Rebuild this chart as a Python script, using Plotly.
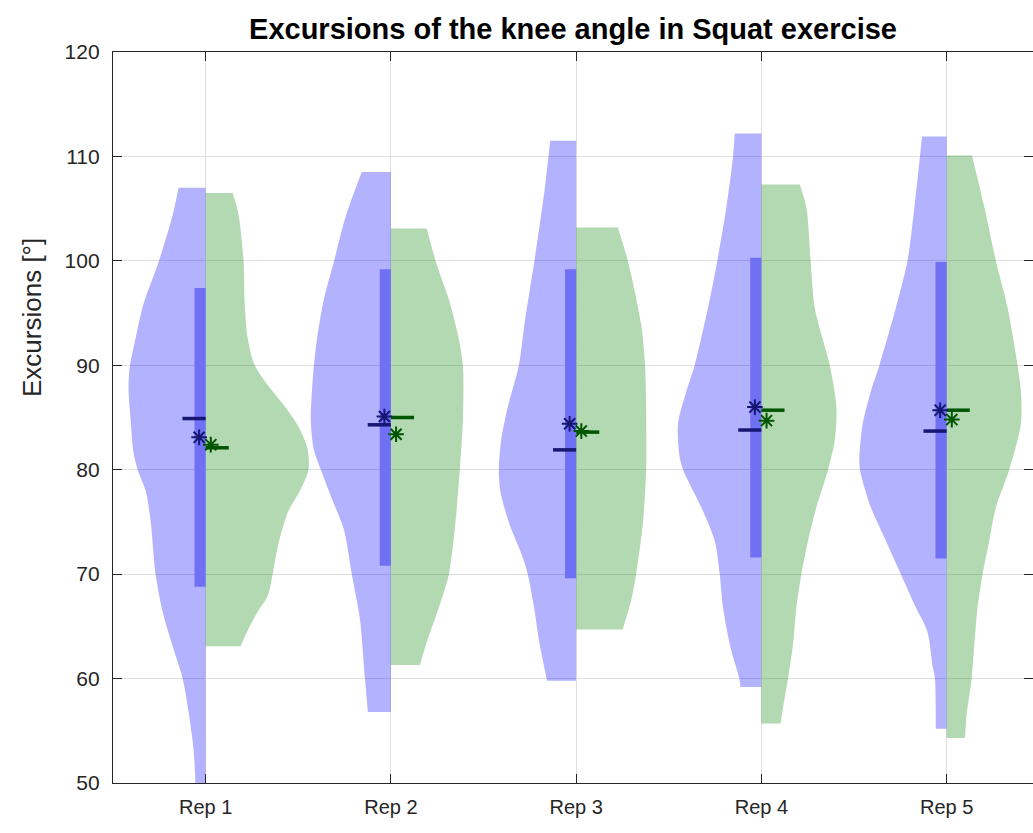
import plotly.graph_objects as go

categories = ["Rep 1", "Rep 2", "Rep 3", "Rep 4", "Rep 5"]
positions = [1, 2, 3, 4, 5]

# Left (blue) half-violin outlines: levels in degrees, half-widths in x-axis units
blue_levels = [
    [107.0, 104.4, 99.9, 95.9, 92.6, 89.8, 87.8, 84.8, 81.6, 80.0, 78.0, 75.1, 70.0, 66.4, 63.1, 60.0, 56.8, 53.2, 49.5],
    [108.5, 104.3, 99.9, 96.3, 92.5, 89.9, 84.8, 81.9, 80.0, 77.2, 74.3, 70.0, 65.7, 60.0, 56.8],
    [111.5, 106.7, 100.0, 93.9, 90.0, 86.0, 82.8, 80.0, 78.0, 74.8, 71.6, 70.0, 66.8, 63.6, 59.8],
    [112.2, 110.0, 105.1, 100.0, 95.5, 90.0, 87.5, 84.4, 81.2, 80.0, 76.4, 73.2, 70.0, 66.8, 63.0, 60.0, 59.2],
    [111.9, 110.0, 105.1, 100.0, 95.5, 90.0, 87.5, 84.4, 81.2, 80.0, 76.4, 73.2, 70.0, 66.8, 64.5, 61.2, 60.0, 55.2],
]
blue_widths = [
    [0.146, 0.178, 0.254, 0.335, 0.378, 0.410, 0.416, 0.405, 0.389, 0.367, 0.324, 0.297, 0.270, 0.232, 0.178, 0.124, 0.092, 0.065, 0.054],
    [0.157, 0.243, 0.308, 0.362, 0.399, 0.416, 0.432, 0.416, 0.378, 0.318, 0.254, 0.211, 0.167, 0.140, 0.124],
    [0.140, 0.171, 0.225, 0.279, 0.309, 0.369, 0.405, 0.417, 0.410, 0.360, 0.288, 0.261, 0.227, 0.200, 0.157],
    [0.144, 0.153, 0.189, 0.238, 0.288, 0.360, 0.405, 0.450, 0.441, 0.423, 0.324, 0.252, 0.225, 0.207, 0.167, 0.119, 0.113],
    [0.133, 0.144, 0.174, 0.211, 0.274, 0.363, 0.409, 0.453, 0.471, 0.468, 0.409, 0.328, 0.247, 0.166, 0.104, 0.076, 0.063, 0.059],
]

# Right (green) half-violin outlines
green_levels = [
    [106.5, 104.4, 99.9, 95.9, 92.6, 90.0, 88.0, 86.0, 84.0, 82.0, 80.0, 78.0, 75.9, 72.6, 70.0, 67.9, 66.4, 64.8, 63.1],
    [103.1, 99.9, 96.3, 92.5, 89.9, 84.8, 80.0, 74.3, 70.0, 68.0, 65.7, 63.5, 61.3],
    [103.2, 100.0, 93.9, 90.0, 86.0, 80.0, 74.8, 70.0, 67.5, 64.7],
    [107.3, 105.1, 100.0, 95.5, 90.0, 86.0, 82.8, 80.0, 76.4, 73.2, 70.0, 66.8, 63.3, 60.0, 56.8, 55.7],
    [110.1, 105.1, 100.0, 95.5, 90.0, 87.5, 84.4, 80.0, 76.4, 73.2, 70.0, 66.8, 63.3, 60.0, 56.5, 54.3],
]
green_widths = [
    [0.146, 0.178, 0.205, 0.211, 0.227, 0.265, 0.340, 0.430, 0.505, 0.550, 0.555, 0.510, 0.443, 0.389, 0.362, 0.335, 0.281, 0.232, 0.189],
    [0.194, 0.243, 0.313, 0.367, 0.389, 0.389, 0.372, 0.345, 0.313, 0.281, 0.238, 0.194, 0.157],
    [0.225, 0.279, 0.351, 0.372, 0.378, 0.378, 0.360, 0.324, 0.297, 0.251],
    [0.207, 0.243, 0.266, 0.288, 0.369, 0.405, 0.396, 0.360, 0.297, 0.252, 0.216, 0.189, 0.171, 0.144, 0.113, 0.104],
    [0.137, 0.204, 0.266, 0.329, 0.383, 0.401, 0.401, 0.338, 0.266, 0.230, 0.194, 0.167, 0.150, 0.135, 0.108, 0.099],
]

# Summary statistics
blue_bar_low = [68.8, 70.8, 69.6, 71.6, 71.5]
blue_bar_high = [97.4, 99.2, 99.2, 100.3, 99.9]
blue_line = [84.9, 84.3, 81.9, 83.8, 83.7]
blue_star = [83.1, 85.1, 84.4, 86.0, 85.7]
green_line = [82.1, 85.0, 83.6, 85.7, 85.7]
green_star = [82.4, 83.4, 83.7, 84.7, 84.8]

# Styles
BLUE_FILL = "rgba(0,0,255,0.30)"
GREEN_FILL = "rgba(0,128,0,0.30)"
BAR_COLOR = "rgb(112,112,245)"
BLUE_DARK = "rgb(22,22,115)"
GREEN_DARK = "rgb(0,85,0)"
BAR_W = 0.06
LINE_LEN = 0.125
STAR_OFF_B = -0.035
STAR_OFF_G = 0.028

fig = go.Figure()

def half(pos, levels, widths, side, color):
    fig.add_trace(go.Scatter(x=[pos, pos], y=[levels[0], levels[-1]], mode="lines",
                             line=dict(width=0, color=color), hoverinfo="skip",
                             showlegend=False))
    xs = [pos + side * w for w in widths]
    fig.add_trace(go.Scatter(x=xs, y=levels, mode="lines", fill="tonextx",
                             fillcolor=color,
                             line=dict(width=0, color=color, shape="spline", smoothing=0.8),
                             hoverinfo="skip", showlegend=False))

for i, p in enumerate(positions):
    half(p, blue_levels[i], blue_widths[i], -1, BLUE_FILL)
    half(p, green_levels[i], green_widths[i], 1, GREEN_FILL)

for i, p in enumerate(positions):
    lo, hi = blue_bar_low[i], blue_bar_high[i]
    fig.add_trace(go.Scatter(x=[p - BAR_W, p, p, p - BAR_W], y=[lo, lo, hi, hi],
                             mode="lines", fill="toself", fillcolor=BAR_COLOR,
                             line=dict(width=0, color=BAR_COLOR),
                             hoverinfo="skip", showlegend=False))

for i, p in enumerate(positions):
    fig.add_trace(go.Scatter(x=[p - LINE_LEN, p], y=[blue_line[i]] * 2, mode="lines",
                             line=dict(width=3.5, color=BLUE_DARK), showlegend=False))
    fig.add_trace(go.Scatter(x=[p, p + LINE_LEN], y=[green_line[i]] * 2, mode="lines",
                             line=dict(width=3.5, color=GREEN_DARK), showlegend=False))

fig.add_trace(go.Scatter(x=[p + STAR_OFF_B for p in positions], y=blue_star, mode="markers",
                         marker=dict(symbol="asterisk-open", size=13, color=BLUE_DARK,
                                     line=dict(width=2, color=BLUE_DARK)),
                         showlegend=False))
fig.add_trace(go.Scatter(x=[p + STAR_OFF_G for p in positions], y=green_star, mode="markers",
                         marker=dict(symbol="asterisk-open", size=13, color=GREEN_DARK,
                                     line=dict(width=2, color=GREEN_DARK)),
                         showlegend=False))

AX = "rgb(38,38,38)"
GRID = "rgb(223,223,223)"
FONT = "Liberation Sans, Arial, sans-serif"

L, R, T, B = 113, 0, 52, 50
W, H = 1033, 833
px_per_unit = 185.25
xmax = 0.5 + (W - L - R) / px_per_unit

fig.update_layout(
    width=W, height=H,
    margin=dict(l=L, r=R, t=T, b=B),
    paper_bgcolor="white", plot_bgcolor="white",
    font=dict(family=FONT, color=AX, size=20),
    title=dict(text="Excursions of the knee angle in Squat exercise",
               x=0.5, xref="paper", xanchor="center",
               y=1 - 29 / H, yref="container", yanchor="middle",
               font=dict(family=FONT, size=29, color="black", weight="bold")),
    xaxis=dict(range=[0.5, xmax], tickvals=positions, ticktext=categories,
               showgrid=True, gridcolor=GRID, gridwidth=1, zeroline=False,
               showline=True, linecolor=AX, linewidth=1.3, mirror="ticks",
               ticks="inside", ticklen=9, tickwidth=1.3, tickcolor=AX,
               tickfont=dict(size=20, color=AX), ticklabelstandoff=6),
    yaxis=dict(range=[50, 120], dtick=10, tick0=50,
               showgrid=True, gridcolor=GRID, gridwidth=1, zeroline=False,
               showline=True, linecolor=AX, linewidth=1.3, mirror="ticks",
               ticks="inside", ticklen=9, tickwidth=1.3, tickcolor=AX,
               tickfont=dict(size=21, color=AX), ticklabelstandoff=8),
    annotations=[dict(text="Excursions [°]", textangle=-90,
                      x=(32 - L) / (W - L - R), xref="paper", xanchor="center",
                      y=(H - B - 318) / (H - T - B), yref="paper", yanchor="middle",
                      showarrow=False,
                      font=dict(family=FONT, size=26, color=AX))],
)

fig.write_html("out.html")
